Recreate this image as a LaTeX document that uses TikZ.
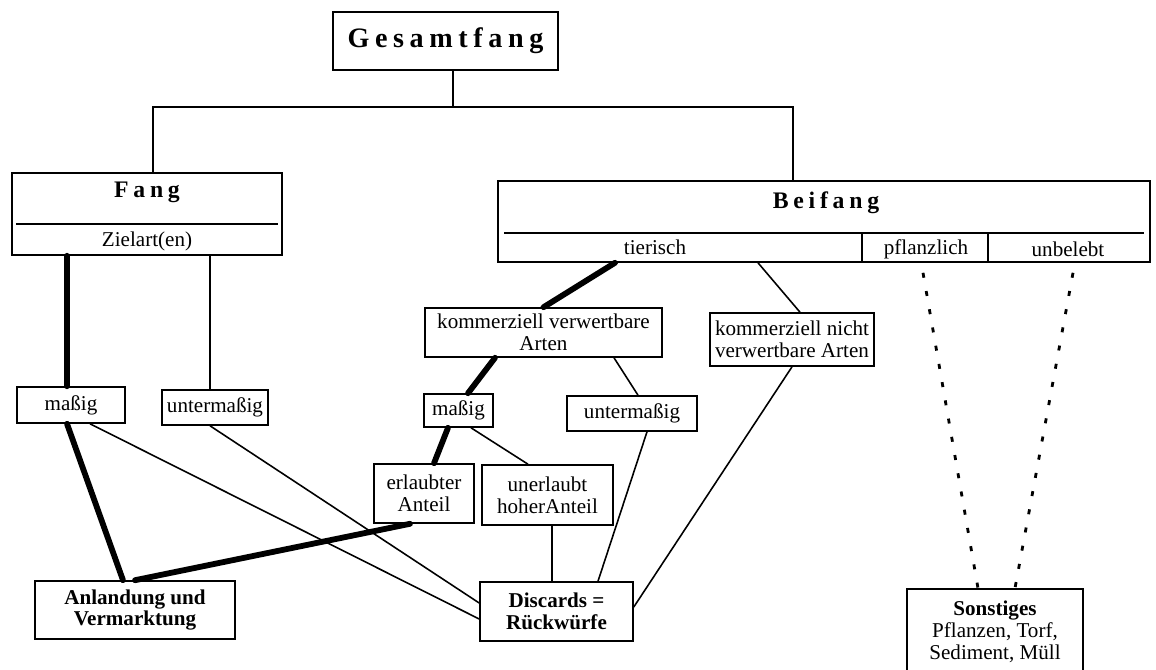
\documentclass[tikz,border=0pt]{standalone}
\usepackage{fontspec}
\setmainfont{Liberation Serif}
\newfontfamily\spacedfont[LetterSpace=20]{Liberation Serif}
\usetikzlibrary{positioning}
\tikzset{
    catchbox/.style={
           rectangle,
           draw=black,
           line width=0.9pt,
           inner sep=0pt,
           align=center,
           font=\fontsize{12}{12.5}\selectfont,
           },
}

\begin{document}
\begin{tikzpicture}[
  x=0.2mm, y=-0.2mm,
  link/.style={line width=0.9pt},
  mainlink/.style={line width=3.3pt,line cap=round},
  dotlink/.style={line width=1.6pt,dash pattern=on 1mm off 2.7mm},
  headline/.style={font=\fontsize{16}{18}\spacedfont\bfseries},
  subhead/.style={font=\fontsize{13.5}{15}\spacedfont\bfseries},
  cell/.style={font=\fontsize{12}{12.5}\selectfont},
  strong/.style={font=\fontsize{12}{12.5}\selectfont\bfseries}]
\useasboundingbox (0,0) rectangle (1156,669);
\node[catchbox,headline,minimum width=45mm,minimum height=11.6mm](gesamt) at (445.5,41){Gesamtfang};
\node[catchbox,minimum width=54mm,minimum height=16.4mm](fang) at (147,214){};
\node[subhead](fangtitle) at (147,192){Fang};
\node[cell](zielart) at (147,241){Zielart(en)};
\node[catchbox,minimum width=130.4mm,minimum height=16.2mm](beifang) at (824,221.5){};
\node[subhead](beifangtitle) at (826,203){Beifang};
\node[cell](tierisch) at (655,247){tierisch};
\node[cell](pflanzlich) at (926,249){pflanzlich};
\node[cell](unbelebt) at (1068,249){unbelebt};
\node[catchbox,minimum width=21.6mm,minimum height=7.2mm](fmasig) at (71,405){maßig};
\node[catchbox,minimum width=21.2mm,minimum height=7mm](funter) at (215,407.5){untermaßig};
\node[catchbox,minimum width=47.4mm,minimum height=9.8mm](kverw) at (543.5,332.5){kommerziell verwertbare\\Arten};
\node[catchbox,minimum width=32.8mm,minimum height=10.6mm](knicht) at (792,339.5){kommerziell nicht\\verwertbare Arten};
\node[catchbox,minimum width=13.8mm,minimum height=6.6mm](bmasig) at (458.5,410.5){maßig};
\node[catchbox,minimum width=26mm,minimum height=7mm](bunter) at (632,413.5){untermaßig};
\node[catchbox,minimum width=20mm,minimum height=11.8mm](erlaubt) at (424,493.5){erlaubter\\Anteil};
\node[catchbox,minimum width=26.2mm,minimum height=12mm](unerlaubt) at (547.5,495){unerlaubt\\hoherAnteil};
\node[catchbox,strong,minimum width=40mm,minimum height=11.6mm](anland) at (135,610){Anlandung und\\Vermarktung};
\node[catchbox,strong,minimum width=30.6mm,minimum height=11.8mm](discards) at (556.5,611.5){Discards =\\Rückwürfe};
\node[catchbox,minimum width=35.2mm,minimum height=17mm](sonst) at (995,631.5){\textbf{Sonstiges}\\Pflanzen, Torf,\\Sediment, Müll};
\coordinate (split) at (453,107);

\draw[link] ([shift={(1mm,-10.4mm)}]fang.north west) -- ([shift={(-1mm,-10.4mm)}]fang.north east);
\draw[link] ([shift={(1.4mm,-10.6mm)}]beifang.north west) -- ([shift={(-1.4mm,-10.6mm)}]beifang.north east);
\draw[link] ([shift={(73mm,-10.6mm)}]beifang.north west) -- ([xshift=73mm]beifang.south west);
\draw[link] ([shift={(98.2mm,-10.6mm)}]beifang.north west) -- ([xshift=98.2mm]beifang.south west);

\draw[link] ([xshift=1.5mm]gesamt.south) -- (split);
\draw[link] (split) -| ([xshift=1.2mm]fang.north);
\draw[link] (split) -| ([xshift=-6.2mm]beifang.north);

\path ([xshift=-16mm]fang.south) edge[mainlink] ([xshift=-16mm]fang.south |- fmasig.north)
      ([xshift=12.6mm]fang.south) edge[link] ([xshift=12.6mm]fang.south |- funter.north)
      ([xshift=-0.8mm]fmasig.south) edge[mainlink] ([xshift=-2.4mm]anland.north)
      ([xshift=3.8mm]fmasig.south) edge[link] ([yshift=-1.5mm]discards.west)
      ([xshift=-1mm]funter.south) edge[link] ([yshift=1.7mm]discards.west)
      (anland.north) edge[mainlink] ([xshift=-2.8mm]erlaubt.south)
      ([xshift=-41.8mm]beifang.south) edge[mainlink] (kverw.north)
      ([xshift=-13.2mm]beifang.south) edge[link] ([xshift=1.6mm]knicht.north)
      ([xshift=-9.7mm]kverw.south) edge[mainlink] ([xshift=1.9mm]bmasig.north)
      ([xshift=14.1mm]kverw.south) edge[link] ([xshift=1.2mm]bunter.north)
      ([xshift=-2.1mm]bmasig.south) edge[mainlink] ([xshift=2mm]erlaubt.north)
      ([xshift=2.5mm]bmasig.south) edge[link] ([xshift=-3.9mm]unerlaubt.north)
      ([xshift=0.9mm]unerlaubt.south) edge[link] ([xshift=-0.9mm]discards.north)
      ([xshift=3mm]bunter.south) edge[link] ([xshift=8.3mm]discards.north)
      (knicht.south) edge[link] ([yshift=0.9mm]discards.east)
      ([shift={(19.8mm,-2mm)}]beifang.south) edge[dotlink] ([xshift=-3.4mm]sonst.north)
      ([shift={(49.8mm,-2mm)}]beifang.south) edge[dotlink] ([xshift=4mm]sonst.north);
\end{tikzpicture}
\end{document}
